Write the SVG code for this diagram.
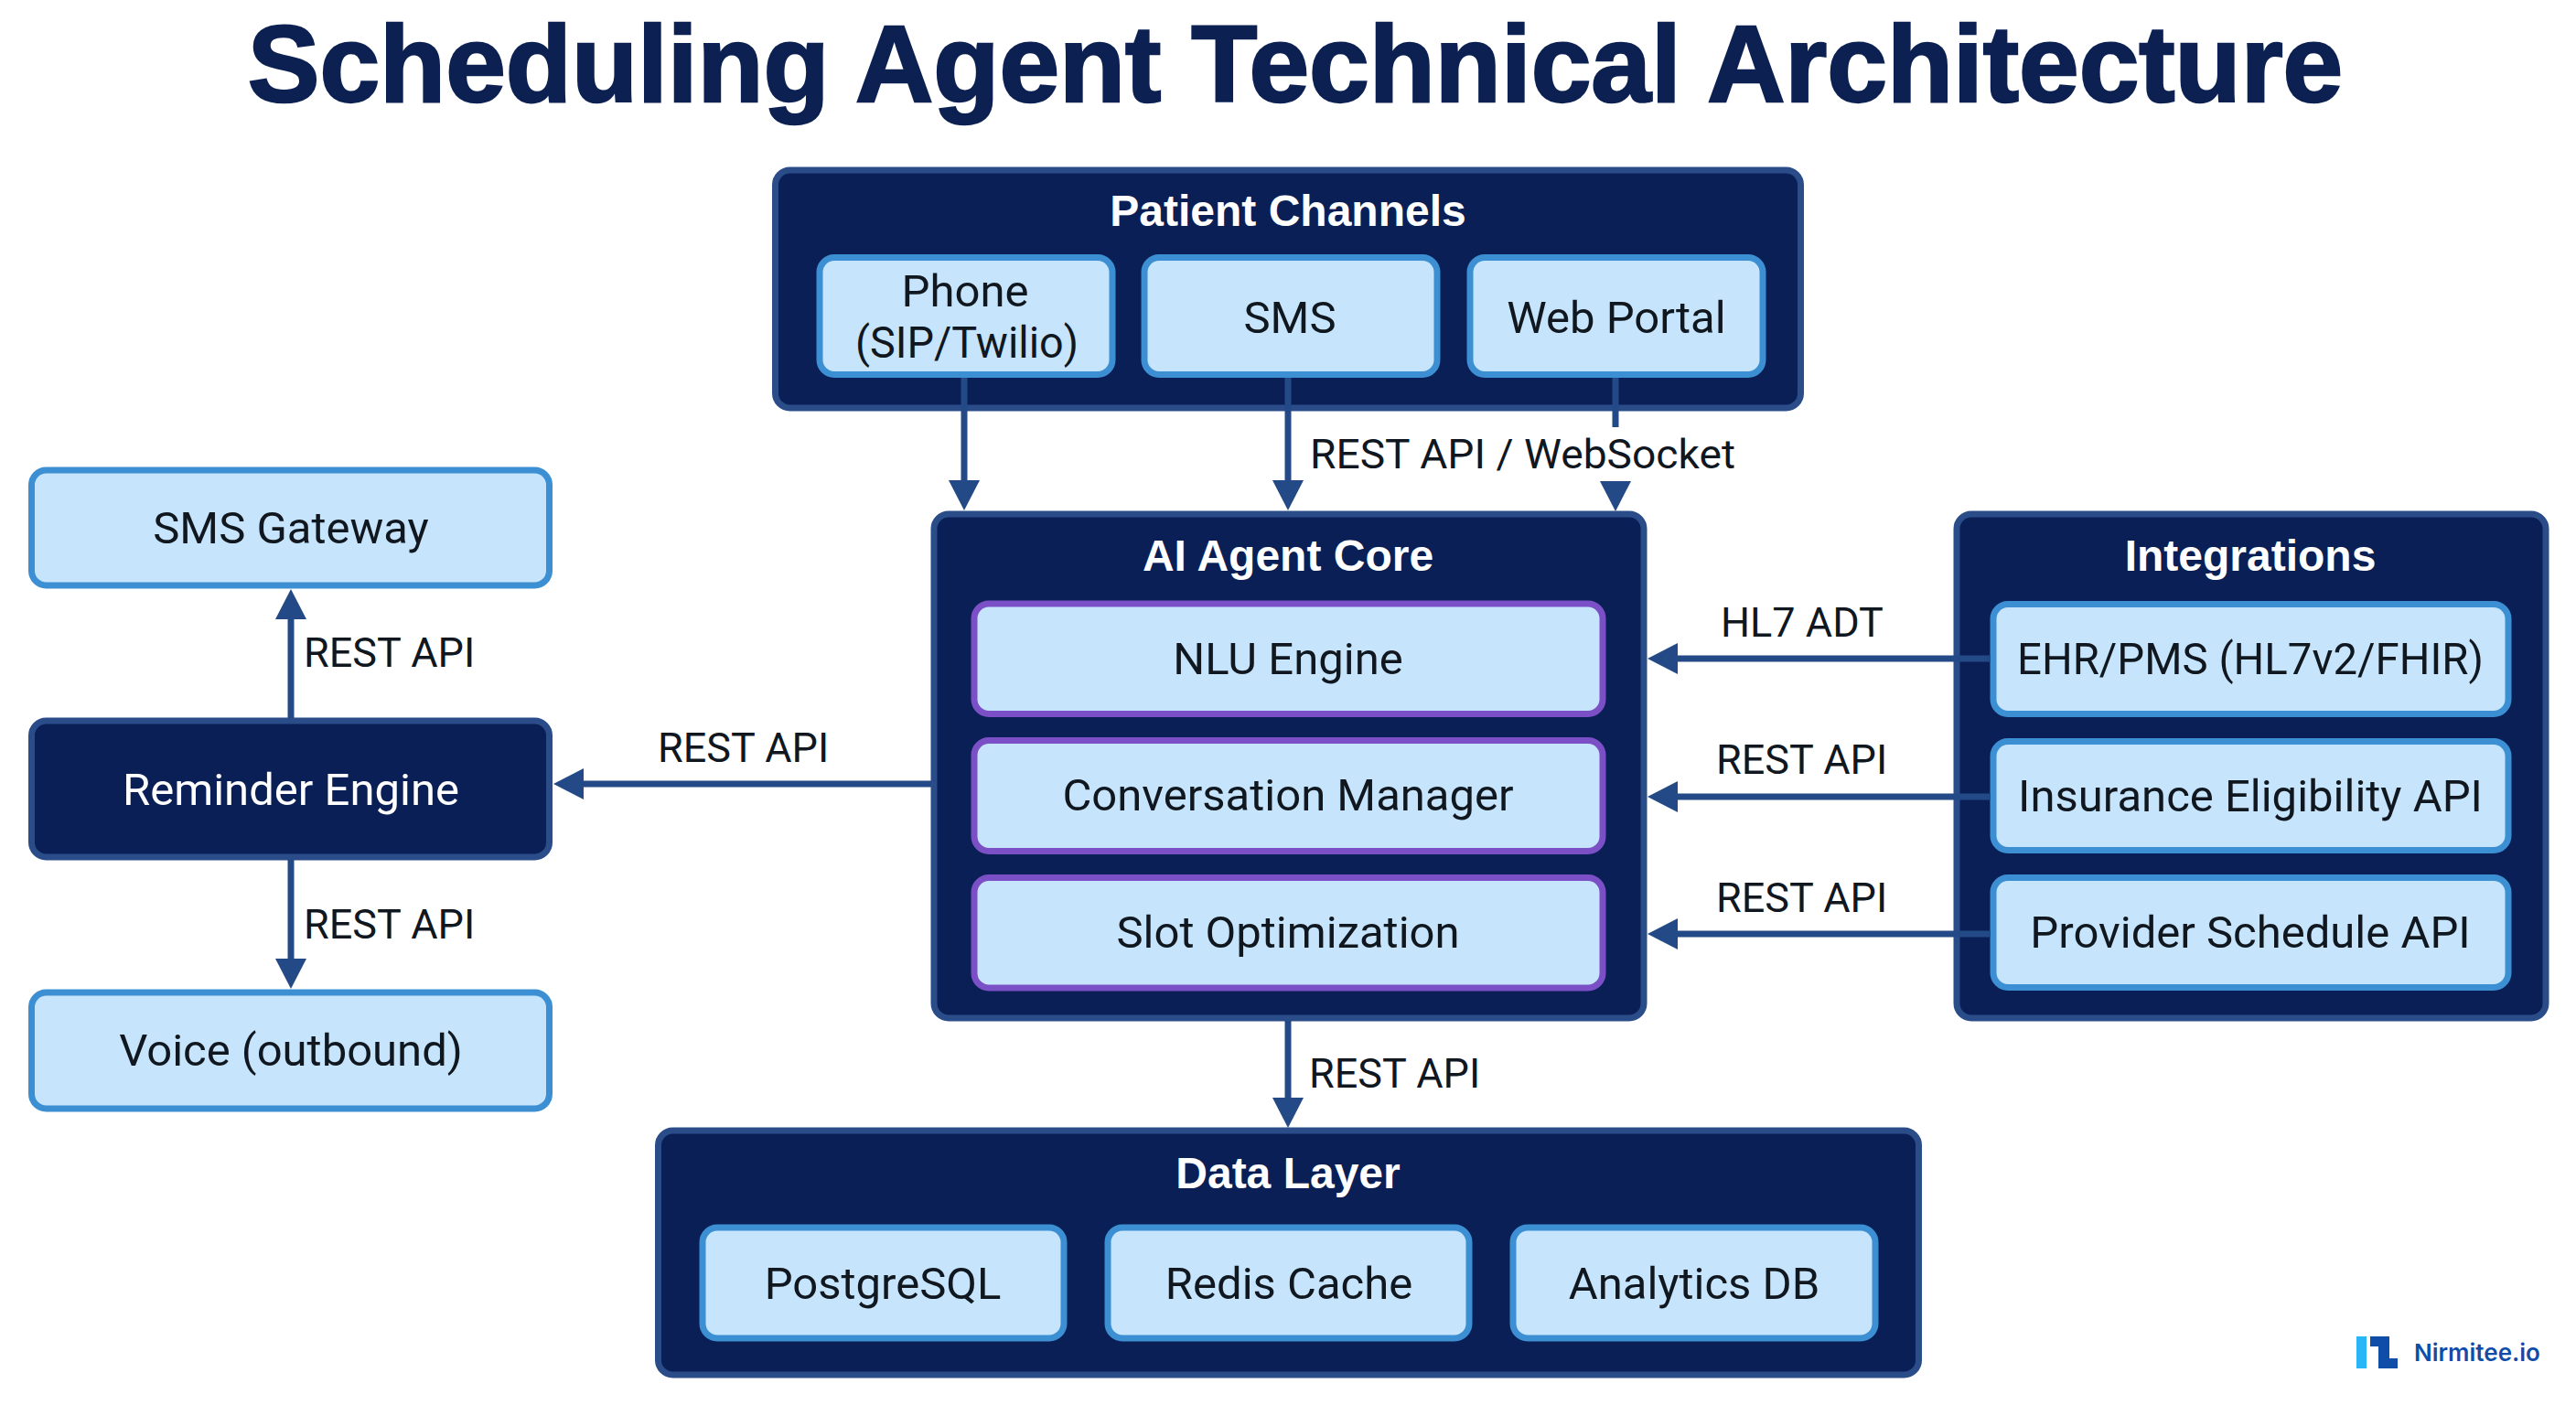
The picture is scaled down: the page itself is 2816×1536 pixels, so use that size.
<svg xmlns="http://www.w3.org/2000/svg" width="2816" height="1536" viewBox="0 0 2816 1536">
<style>
text{font-family:Roboto,"Liberation Sans",sans-serif;text-anchor:middle}
.title{font-family:"Liberation Sans",Arial,sans-serif;font-weight:700;font-size:118px;fill:#0c2152;stroke:#0c2152;stroke-width:2.500}
.head{font-family:"Liberation Sans",Arial,sans-serif;font-weight:700;font-size:48px;fill:#fff}
.item{font-size:49px;fill:#10171f}
.white{font-size:49px;fill:#fff}
.lab{font-size:45px;fill:#10171f;text-anchor:start}
.navy{fill:#0a1f55;stroke:#2a4d8a;stroke-width:7}
.blue{fill:#c6e4fb;stroke:#3c8fd2;stroke-width:7}
.purple{fill:#c6e4fb;stroke:#7b50c6;stroke-width:7}
.conn{fill:none;stroke:#234a86;stroke-width:7;marker-end:url(#ah)}
.brand{font-family:Inter,"Liberation Sans",sans-serif;font-weight:600;font-size:26px;fill:#0f4da8;text-anchor:start}
</style>
<defs>
<marker id="ah" markerUnits="userSpaceOnUse" markerWidth="34" markerHeight="36" refX="1" refY="18" orient="auto"><path d="M0 1L33 18L0 35Z" fill="#234a86"/></marker>
</defs>
<rect width="2816" height="1536" fill="#fff"/>
<text class="title" x="1416" y="111" id="title">Scheduling Agent Technical Architecture</text>

<g id="patient-channels">
<rect class="navy" x="847.500" y="186" width="1121" height="260" rx="16"/>
<text class="head" x="1408" y="247">Patient Channels</text>
</g>
<g id="phone"><rect class="blue" x="896" y="281.500" width="320" height="128" rx="16"/><text class="item" x="1055" y="335">Phone</text><text class="item" x="1057" y="391" textLength="244" lengthAdjust="spacingAndGlyphs">(SIP/Twilio)</text></g>
<g id="sms"><rect class="blue" x="1251" y="281.500" width="320" height="128" rx="16"/><text class="item" x="1410" y="364">SMS</text></g>
<g id="web-portal"><rect class="blue" x="1607" y="281.500" width="320" height="128" rx="16"/><text class="item" x="1767" y="364">Web Portal</text></g>

<g id="ai-agent-core">
<rect class="navy" x="1021" y="562" width="776" height="551" rx="16"/>
<text class="head" x="1408" y="624">AI Agent Core</text>
</g>
<g id="nlu-engine"><rect class="purple" x="1065" y="660" width="687" height="120.500" rx="16"/><text class="item" x="1408" y="737">NLU Engine</text></g>
<g id="conversation-manager"><rect class="purple" x="1065" y="809.500" width="687" height="121" rx="16"/><text class="item" x="1408" y="886">Conversation Manager</text></g>
<g id="slot-optimization"><rect class="purple" x="1065" y="959.500" width="687" height="120.500" rx="16"/><text class="item" x="1408" y="1036">Slot Optimization</text></g>

<g id="integrations">
<rect class="navy" x="2139" y="562" width="644" height="551" rx="16"/>
<text class="head" x="2460" y="624">Integrations</text>
</g>
<g id="ehr-pms"><rect class="blue" x="2179" y="660.500" width="563" height="120" rx="16"/><text class="item" x="2460" y="737" textLength="510" lengthAdjust="spacingAndGlyphs">EHR/PMS (HL7v2/FHIR)</text></g>
<g id="insurance-eligibility"><rect class="blue" x="2179" y="810.500" width="563" height="119" rx="16"/><text class="item" x="2460" y="887">Insurance Eligibility API</text></g>
<g id="provider-schedule"><rect class="blue" x="2179" y="959.500" width="563" height="120" rx="16"/><text class="item" x="2460" y="1036">Provider Schedule API</text></g>

<g id="sms-gateway"><rect class="blue" x="34.500" y="514" width="566" height="126" rx="16"/><text class="item" x="318" y="594">SMS Gateway</text></g>
<g id="reminder-engine"><rect class="navy" x="34.500" y="788" width="566" height="149" rx="16"/><text class="white" x="318" y="880">Reminder Engine</text></g>
<g id="voice-outbound"><rect class="blue" x="34.500" y="1085" width="566" height="127" rx="16"/><text class="item" x="318" y="1165">Voice (outbound)</text></g>

<g id="data-layer">
<rect class="navy" x="719.500" y="1236" width="1378" height="267" rx="16"/>
<text class="head" x="1408" y="1299">Data Layer</text>
</g>
<g id="postgresql"><rect class="blue" x="768" y="1342" width="395" height="121" rx="16"/><text class="item" x="965" y="1420">PostgreSQL</text></g>
<g id="redis-cache"><rect class="blue" x="1211" y="1342" width="395" height="121" rx="16"/><text class="item" x="1409" y="1420">Redis Cache</text></g>
<g id="analytics-db"><rect class="blue" x="1654" y="1342" width="396" height="121" rx="16"/><text class="item" x="1852" y="1420">Analytics DB</text></g>

<g id="connectors">
<path class="conn" d="M1054 413V526"/>
<path class="conn" d="M1408 413V526"/>
<path class="conn" d="M1766 413V467M1766 526V527"/>
<path class="conn" d="M318 785V676"/>
<path class="conn" d="M318 940V1049"/>
<path class="conn" d="M1018 857H637"/>
<path class="conn" d="M2176 720H1833"/>
<path class="conn" d="M2176 871H1833"/>
<path class="conn" d="M2176 1021H1833"/>
<path class="conn" d="M1408 1116V1201"/>
<text class="lab" x="1432" y="512" textLength="465" lengthAdjust="spacingAndGlyphs">REST API / WebSocket</text>
<text class="lab" x="332" y="729">REST API</text>
<text class="lab" x="332" y="1026">REST API</text>
<text class="lab" x="719" y="833">REST API</text>
<text class="lab" x="1881" y="696">HL7 ADT</text>
<text class="lab" x="1876" y="846">REST API</text>
<text class="lab" x="1876" y="997">REST API</text>
<text class="lab" x="1431" y="1189">REST API</text>
</g>

<g id="brand">
<rect x="2576" y="1461" width="11" height="35" fill="#29b6f6"/>
<path d="M2591 1461H2612V1485H2621V1496H2600V1472H2591Z" fill="#0f4da8"/>
<text class="brand" x="2639" y="1488">Nirmitee.io</text>
</g>
</svg>
